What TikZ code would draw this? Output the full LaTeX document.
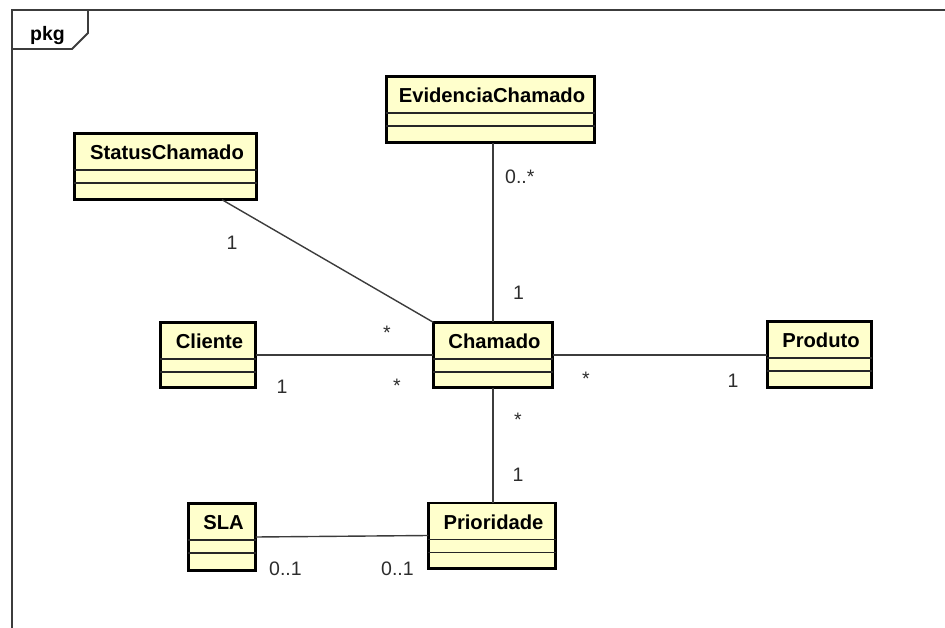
\documentclass[tikz,border=0pt]{standalone}
\usepackage{fontspec}
\setmainfont{Liberation Sans}
\usetikzlibrary{calc}

\definecolor{classfill}{RGB}{255,255,204}
\definecolor{edgegray}{RGB}{60,60,60}
\definecolor{labelgray}{RGB}{45,45,45}

\tikzset{
  classbox/.style={draw=black, line width=2.6pt, fill=classfill, inner sep=0pt, outer sep=0pt},
  classtitle/.style={inner sep=0pt, font=\fontsize{20.2}{22}\selectfont\bfseries, text=black},
  divider/.style={draw=black!85, line width=1.4pt},
  assoc/.style={draw=edgegray, line width=1.4pt},
  mult/.style={inner sep=0pt, font=\fontsize{19.5}{22}\selectfont, text=labelgray},
  frameline/.style={draw=edgegray, line width=1.8pt},
}

% UML class: name, centre x, centre y (downwards), outer width, outer height, title
\newcommand\umlclass[6]{%
  \pgfmathsetmacro\ucw{#4-2.6}\pgfmathsetmacro\uch{#5-2.6}%
  \node[classbox, minimum width=\ucw pt, minimum height=\uch pt] (#1) at (#2,-#3) {};
  \node[classtitle, anchor=base] (#1-title) at ($(#1.north)+(1.5,-26.4)$) {#6};
  \draw[divider] ($(#1.north west)+(0,-36.7)$) -- ($(#1.north east)+(0,-36.7)$);
  \draw[divider] ($(#1.north west)+(0,-49.7)$) -- ($(#1.north east)+(0,-49.7)$);
}

\begin{document}
\begin{tikzpicture}[x=1pt, y=1pt]
  \useasboundingbox (0,0) rectangle (945,-628);

  % package frame with its name tab
  \draw[frameline] (12,-628) -- (12,-10) -- (945,-10);
  \draw[frameline] (11,-49) -- (72,-49) -- (88,-33) -- (88,-10);
  \node[inner sep=0pt, anchor=base west, font=\fontsize{19.5}{22}\selectfont\bfseries] (pkg) at (30,-40.5) {pkg};

  % classes
  \umlclass{evid}{490.5}{109.5}{211}{69}{EvidenciaChamado}
  \umlclass{status}{165.5}{166.5}{185}{69}{StatusChamado}
  \umlclass{cliente}{208}{355}{98}{68}{Cliente}
  \umlclass{chamado}{493}{355}{122}{68}{Chamado}
  \umlclass{produto}{819.5}{354.5}{107}{69}{Produto}
  \umlclass{sla}{222}{537}{70}{70}{SLA}
  \umlclass{prio}{492}{535.5}{130}{68}{Prioridade}

  % associations
  \coordinate (status-end) at ($(status.south)+(56.5,0)$);
  \draw[assoc] (status-end) -- (chamado.north west);
  \draw[assoc] (chamado.north) -- (chamado.north |- evid.south);
  \draw[assoc] (cliente.east) -- (chamado.west);
  \draw[assoc] (chamado.east) -- (chamado.east -| produto.west);
  \draw[assoc] (chamado.south) -- (chamado.south |- prio.north);
  \draw[assoc] (sla.east) -- (prio.west);

  % multiplicities
  \node[mult, anchor=base west] (m-evid) at (505,-184) {0..*};
  \node[mult, anchor=base] (m-cham-top) at (518.5,-300) {1};
  \node[mult, anchor=base] (m-status) at (232,-250) {1};
  \node[mult, anchor=base] (m-cham-status) at (387,-339) {*};
  \node[mult, anchor=base] (m-cliente) at (282,-393) {1};
  \node[mult, anchor=base] (m-cham-cliente) at (397,-392) {*};
  \node[mult, anchor=base] (m-cham-produto) at (586,-385) {*};
  \node[mult, anchor=base] (m-produto) at (733,-387) {1};
  \node[mult, anchor=base] (m-cham-prio) at (518,-426) {*};
  \node[mult, anchor=base] (m-prio-top) at (518,-481) {1};
  \node[mult, anchor=base west] (m-sla) at (269,-575) {0..1};
  \node[mult, anchor=base west] (m-prio) at (381,-575) {0..1};
\end{tikzpicture}
\end{document}
